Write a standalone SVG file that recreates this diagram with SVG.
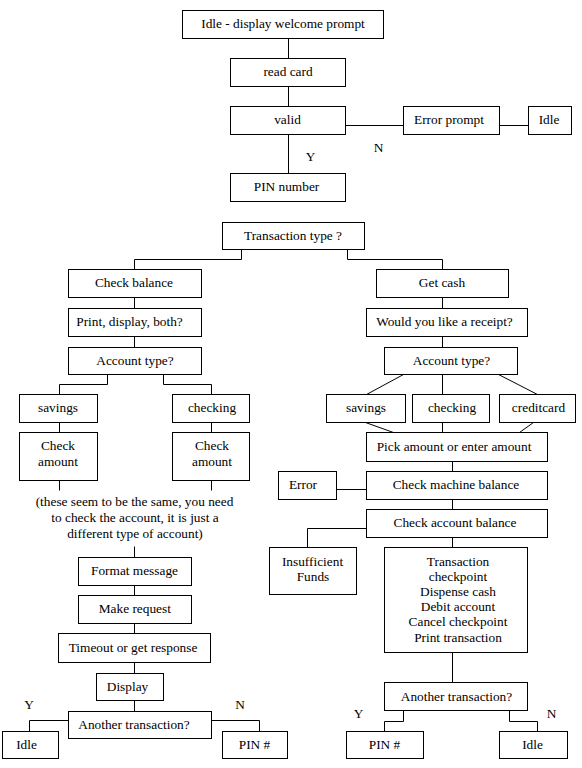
<svg xmlns="http://www.w3.org/2000/svg" width="582" height="768" viewBox="0 0 582 768">
<style>
rect{fill:#fff;stroke:#000;stroke-width:1}
text{font-family:'Liberation Serif','Tinos','Times New Roman','DejaVu Serif',serif;font-size:13.33px;fill:#000;text-anchor:middle}
#connectors path{fill:none;stroke:#000;stroke-width:1}
</style>
<rect x="0" y="0" width="582" height="768" style="stroke:none;fill:#fff"/>
<g transform="translate(0.5,0.5)">
<g id="connectors">
<path d="M288 38V58M288 86V106M288 134V173M345 125H403M499 125H528"/>
<path d="M241 249V259H134V269M347 249V259H442V269"/>
<path d="M134 297V308M134 336V347"/>
<path d="M107 374V384H59V394M163 374V384H211V394"/>
<path d="M59 422V432M211 422V432M59 480V490M211 480V490"/>
<path d="M134 546V557M134 585V595M134 623V633M134 662V673M134 700V711"/>
<path d="M68 720H29V731M211 720H259V731"/>
<path d="M442 297V308M442 336V347"/>
<path d="M403 374L366 394M442 374V394M498 374L537 394"/>
<path d="M365 422L393 432M442 422V432M533 422L519 432"/>
<path d="M452 461V471M452 499V509M452 537V547M336 489H366"/>
<path d="M366 528H307V547M452 652V682"/>
<path d="M403 710V721H384V731M509 710V721H537V731"/>
</g>
<g id="n_welcome"><rect x="182" y="10" width="201" height="28"/><text x="282.5" y="27.5">Idle - display welcome prompt</text></g>
<g id="n_readcard"><rect x="230" y="58" width="115" height="28"/><text x="287.5" y="75.5">read card</text></g>
<g id="n_valid"><rect x="230" y="106" width="115" height="28"/><text x="287" y="123.5">valid</text></g>
<g id="n_errorprompt"><rect x="403" y="106" width="96" height="28"/><text x="448.5" y="123.5">Error prompt</text></g>
<g id="n_idle_top"><rect x="528" y="106" width="43" height="28"/><text x="548.5" y="123.5">Idle</text></g>
<text x="378" y="151">N</text>
<text x="310" y="160">Y</text>
<g id="n_pin"><rect x="230" y="173" width="115" height="28"/><text x="286" y="190.5">PIN number</text></g>
<g id="n_txtype"><rect x="222" y="222" width="142" height="27"/><text x="292.5" y="239.5">Transaction type ?</text></g>

<g id="n_checkbal"><rect x="68" y="269" width="133" height="28"/><text x="133.5" y="286.5">Check balance</text></g>
<g id="n_print"><rect x="68" y="308" width="133" height="28"/><text x="129" y="325.5">Print, display, both?</text></g>
<g id="n_acct_l"><rect x="68" y="347" width="133" height="27"/><text x="134.5" y="364.5">Account type?</text></g>
<g id="n_sav_l"><rect x="19" y="394" width="78" height="28"/><text x="57.5" y="411.5">savings</text></g>
<g id="n_chk_l"><rect x="172" y="394" width="77" height="28"/><text x="211.5" y="411.5">checking</text></g>
<g id="n_amt_l"><rect x="19" y="432" width="78" height="48"/><text x="57.5" y="449">Check</text><text x="57.5" y="465">amount</text></g>
<g id="n_amt_r"><rect x="172" y="432" width="77" height="48"/><text x="211.5" y="449">Check</text><text x="211.5" y="465">amount</text></g>
<g id="note"><text x="134" y="505.5">(these seem to be the same, you need</text><text x="134.5" y="521.5">to check the account, it is just a</text><text x="134.5" y="537">different type of account)</text></g>
<g id="n_format"><rect x="78" y="557" width="113" height="28"/><text x="134" y="574.5">Format message</text></g>
<g id="n_request"><rect x="78" y="595" width="113" height="28"/><text x="134.3" y="612.5">Make request</text></g>
<g id="n_timeout"><rect x="58" y="633" width="152" height="29"/><text x="132.5" y="651">Timeout or get response</text></g>
<g id="n_display"><rect x="96" y="673" width="67" height="27"/><text x="127" y="690">Display</text></g>
<g id="n_another_l"><rect x="68" y="711" width="143" height="27"/><text x="133.5" y="728">Another transaction?</text></g>
<text x="28.5" y="708">Y</text>
<text x="239.5" y="708">N</text>
<g id="n_idle_l"><rect x="2" y="731" width="56" height="27"/><text x="26" y="748.5">Idle</text></g>
<g id="n_pinhash_l"><rect x="222" y="731" width="65" height="27"/><text x="254" y="748.5">PIN #</text></g>

<g id="n_getcash"><rect x="376" y="269" width="132" height="28"/><text x="441.5" y="286.5">Get cash</text></g>
<g id="n_receipt"><rect x="366" y="308" width="161" height="28"/><text x="444" y="325.5">Would you like a receipt?</text></g>
<g id="n_acct_r"><rect x="384" y="347" width="133" height="27"/><text x="451" y="364.5">Account type?</text></g>
<g id="n_sav_r"><rect x="326" y="394" width="79" height="28"/><text x="365.5" y="411.5">savings</text></g>
<g id="n_chk_r"><rect x="412" y="394" width="77" height="28"/><text x="451.5" y="411.5">checking</text></g>
<g id="n_credit"><rect x="499" y="394" width="76" height="28"/><text x="538" y="411.5">creditcard</text></g>
<g id="n_pick"><rect x="366" y="432" width="181" height="29"/><text x="453.5" y="450">Pick amount or enter amount</text></g>
<g id="n_error"><rect x="278" y="471" width="58" height="28"/><text x="302.5" y="488.5">Error</text></g>
<g id="n_machine"><rect x="366" y="471" width="181" height="28"/><text x="455.5" y="488.5">Check machine balance</text></g>
<g id="n_acctbal"><rect x="366" y="509" width="181" height="28"/><text x="454.5" y="526.5">Check account balance</text></g>
<g id="n_insuff"><rect x="269" y="547" width="87" height="47"/><text x="312" y="565">Insufficient</text><text x="312.5" y="580.5">Funds</text></g>
<g id="n_tx"><rect x="384" y="547" width="143" height="105"/>
<text x="457.5" y="565">Transaction</text><text x="457.5" y="580.2">checkpoint</text><text x="457.5" y="595.4">Dispense cash</text><text x="457.5" y="610.6">Debit account</text><text x="457.5" y="625.8">Cancel checkpoint</text><text x="457.5" y="641">Print transaction</text></g>
<g id="n_another_r"><rect x="384" y="682" width="143" height="28"/><text x="456" y="700">Another transaction?</text></g>
<text x="358" y="717">Y</text>
<text x="551" y="717">N</text>
<g id="n_pinhash_r"><rect x="346" y="731" width="77" height="27"/><text x="384" y="748.5">PIN #</text></g>
<g id="n_idle_r"><rect x="499" y="731" width="68" height="27"/><text x="532" y="748.5">Idle</text></g>
</g>
</svg>
